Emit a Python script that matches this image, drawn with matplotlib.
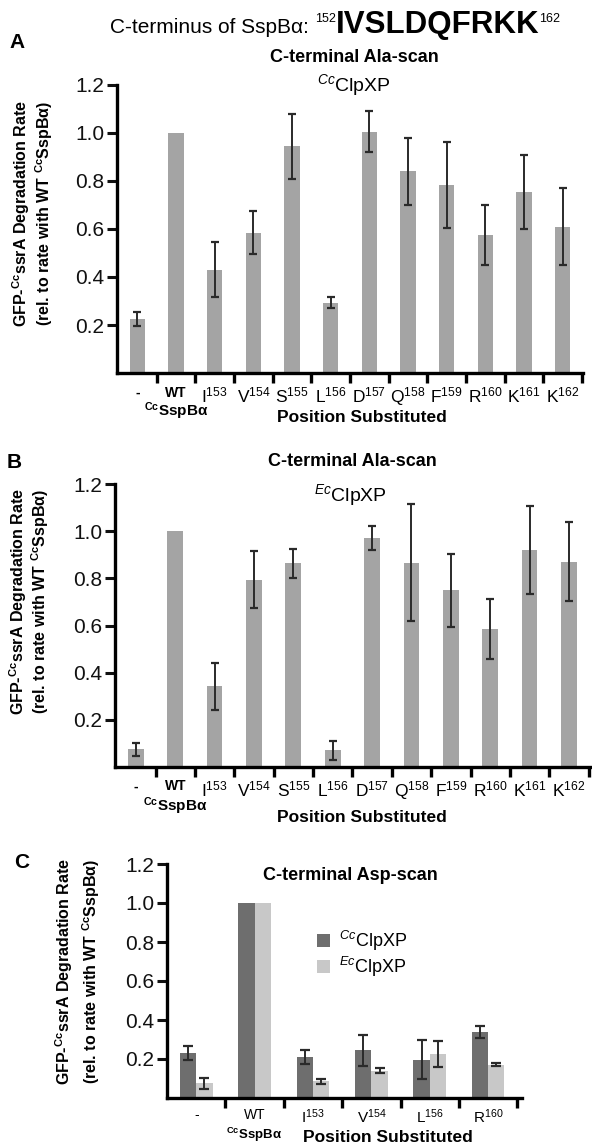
import numpy as np
import matplotlib
matplotlib.use("Agg")
import matplotlib.pyplot as plt
import matplotlib.transforms as mtransforms

plt.rcParams['font.family'] = ['Liberation Sans', 'DejaVu Sans']
plt.rcParams['mathtext.fontset'] = 'custom'
plt.rcParams['mathtext.rm'] = 'Liberation Sans'
plt.rcParams['mathtext.it'] = 'Liberation Sans:italic'
plt.rcParams['mathtext.bf'] = 'Liberation Sans:bold'

# Ala-scan, panels A (CcClpXP) and B (EcClpXP)
ala_labels = ['-', 'WT', 'I$^{153}$', 'V$^{154}$', 'S$^{155}$', 'L$^{156}$',
              'D$^{157}$', 'Q$^{158}$', 'F$^{159}$', 'R$^{160}$', 'K$^{161}$', 'K$^{162}$']
cc_rate = [0.225, 1.0, 0.43, 0.585, 0.945, 0.293, 1.005, 0.84, 0.783, 0.575, 0.755, 0.61]
cc_err = [0.03, np.nan, 0.115, 0.09, 0.135, 0.024, 0.085, 0.14, 0.18, 0.123, 0.155, 0.16]
ec_rate = [0.075, 1.0, 0.343, 0.795, 0.863, 0.07, 0.97, 0.867, 0.75, 0.585, 0.92, 0.87]
ec_err = [0.028, np.nan, 0.1, 0.12, 0.06, 0.04, 0.05, 0.25, 0.155, 0.127, 0.185, 0.168]

# Asp-scan, panel C
asp_labels = ['-', 'WT', 'I$^{153}$', 'V$^{154}$', 'L$^{156}$', 'R$^{160}$']
asp_cc = [0.23, 1.0, 0.21, 0.245, 0.195, 0.34]
asp_cc_err = [0.035, np.nan, 0.035, 0.08, 0.1, 0.03]
asp_ec = [0.075, 1.0, 0.085, 0.14, 0.225, 0.17]
asp_ec_err = [0.03, np.nan, 0.012, 0.012, 0.065, 0.008]

yticks = [0.2, 0.4, 0.6, 0.8, 1.0, 1.2]

W, H = 592, 1147
fig = plt.figure(figsize=(W / 100, H / 100), dpi=100)


def fx(px):
    return px / W


def fy(py):
    return 1 - py / H


def add_ax(left, top, right, bottom):
    return fig.add_axes([fx(left), fy(bottom), fx(right) - fx(left), fy(top) - fy(bottom)])


def errbars(ax, x, y, e, cap):
    x = np.asarray(x, float)
    y = np.asarray(y, float)
    e = np.asarray(e, float)
    ok = ~np.isnan(e)
    ax.errorbar(x[ok], y[ok], yerr=e[ok], fmt='none', ecolor='#2a2a2a',
                elinewidth=1.4, capsize=cap, capthick=1.6, zorder=3)


def style(ax, n, xmin, xmax, pad=9):
    for s in ['top', 'right']:
        ax.spines[s].set_visible(False)
    for s in ['left', 'bottom']:
        ax.spines[s].set_linewidth(2.4)
    ax.set_ylim(0, 1.2)
    ax.set_yticks(yticks)
    ax.set_yticklabels(['%.1f' % v for v in yticks])
    ax.tick_params(axis='y', length=7, width=2.2, labelsize=15, pad=2, colors='#111111')
    ax.set_xlim(xmin, xmax)
    ax.set_xticks(np.arange(n) + 0.5)
    ax.tick_params(axis='x', which='major', length=7, width=2.4, labelbottom=False)
    ax.set_xticks(np.arange(n), minor=True)
    ax.tick_params(axis='x', which='minor', length=0, pad=pad)


def tick_labels(ax, labels, size, bold_first):
    ax.set_xticklabels(labels, minor=True, fontsize=size)
    for i, t in enumerate(ax.get_xticklabels(minor=True)):
        if i < 2 and bold_first:
            t.set_fontweight('bold')
            t.set_fontsize(size - 2.5)
        elif i < 2:
            t.set_fontsize(size - 1)


def ylabel(x1, x2, yc, size=11.5):
    fig.text(fx(x1), fy(yc), r'GFP-$^{\mathbf{Cc}}$ssrA Degradation Rate', rotation=90,
             ha='center', va='center', fontsize=size, fontweight='bold')
    fig.text(fx(x2), fy(yc), r'(rel. to rate with WT $^{\mathbf{Cc}}$SspBα)', rotation=90,
             ha='center', va='center', fontsize=size, fontweight='bold')


def under_wt(ax, x, dy, size):
    tr = mtransforms.offset_copy(
        mtransforms.blended_transform_factory(ax.transData, ax.transAxes),
        fig=fig, y=-dy, units='dots')
    ax.text(x, 0, r'$^{\mathbf{Cc}}$SspBα', transform=tr, ha='center', va='center',
            fontsize=size, fontweight='bold')


# ---- Panel A ----
axA = add_ax(117, 85, 583, 373)
x = np.arange(len(ala_labels))
axA.bar(x, cc_rate, width=0.4, color='#a4a4a4', zorder=2)
errbars(axA, x, cc_rate, cc_err, 3)
style(axA, len(ala_labels), -0.53, 11.53)
tick_labels(axA, ala_labels, 12.5, True)
under_wt(axA, 1, 38, 11)

# ---- Panel B ----
axB = add_ax(115, 484, 591, 767)
axB.bar(x, ec_rate, width=0.4, color='#a4a4a4', zorder=2)
errbars(axB, x, ec_rate, ec_err, 3)
style(axB, len(ala_labels), -0.53, 11.56)
tick_labels(axB, ala_labels, 12.5, True)
under_wt(axB, 1, 39, 11)

# ---- Panel C ----
axC = add_ax(167, 864, 522, 1098)
xc = np.arange(len(asp_labels))
w = 0.28
axC.bar(xc - w / 2, asp_cc, width=w, color='#6e6e6e', zorder=2, label=r'$^{Cc}$ClpXP')
axC.bar(xc + w / 2, asp_ec, width=w, color='#c8c8c8', zorder=2, label=r'$^{Ec}$ClpXP')
errbars(axC, xc - w / 2, asp_cc, asp_cc_err, 3.5)
errbars(axC, xc + w / 2, asp_ec, asp_ec_err, 3.5)
style(axC, len(asp_labels), -0.5, 5.58, pad=7)
tick_labels(axC, asp_labels, 11, False)
under_wt(axC, 1, 37, 9.5)
axC.legend(loc='upper left', bbox_to_anchor=(fx(317), fy(929)), bbox_transform=fig.transFigure,
           frameon=False, fontsize=13, handlelength=0.7, handleheight=0.7,
           handletextpad=0.5, labelspacing=0.1, borderpad=0, borderaxespad=0)

# ---- labels & titles ----
ylabel(21, 44, 213)
ylabel(18, 40, 601)
ylabel(64, 91, 971)

fig.text(fx(362), fy(418), 'Position Substituted', ha='center', va='center', fontsize=12.5, fontweight='bold')
fig.text(fx(362), fy(818), 'Position Substituted', ha='center', va='center', fontsize=12.5, fontweight='bold')
fig.text(fx(388), fy(1138), 'Position Substituted', ha='center', va='center', fontsize=12.5, fontweight='bold')

fig.text(fx(17), fy(43), 'A', ha='center', va='center', fontsize=15, fontweight='bold')
fig.text(fx(14), fy(463), 'B', ha='center', va='center', fontsize=15, fontweight='bold')
fig.text(fx(22), fy(863), 'C', ha='center', va='center', fontsize=15, fontweight='bold')

fig.text(fx(354), fy(57), 'C-terminal Ala-scan', ha='center', va='center', fontsize=13, fontweight='bold')
fig.text(fx(354), fy(85), r'$^{Cc}$ClpXP', ha='center', va='center', fontsize=14)
fig.text(fx(352), fy(462), 'C-terminal Ala-scan', ha='center', va='center', fontsize=13, fontweight='bold')
fig.text(fx(350), fy(495), r'$^{Ec}$ClpXP', ha='center', va='center', fontsize=14)
fig.text(fx(350), fy(875), 'C-terminal Asp-scan', ha='center', va='center', fontsize=13, fontweight='bold')

# title assembled from pieces placed left to right
renderer = fig.canvas.get_renderer()
pieces = [('C-terminus of SspBα: ', 15, 'normal', 0),
          ('152', 9, 'normal', 11),
          ('IVSLDQFRKK', 22.5, 'bold', 0),
          ('162', 9, 'normal', 11)]
xpos = 110
for txt, size, weight, rise in pieces:
    t = fig.text(fx(xpos), fy(33 - rise), txt, ha='left', va='baseline', fontsize=size, fontweight=weight)
    bb = t.get_window_extent(renderer)
    xpos += bb.width

fig.savefig('out.png', dpi=100)
